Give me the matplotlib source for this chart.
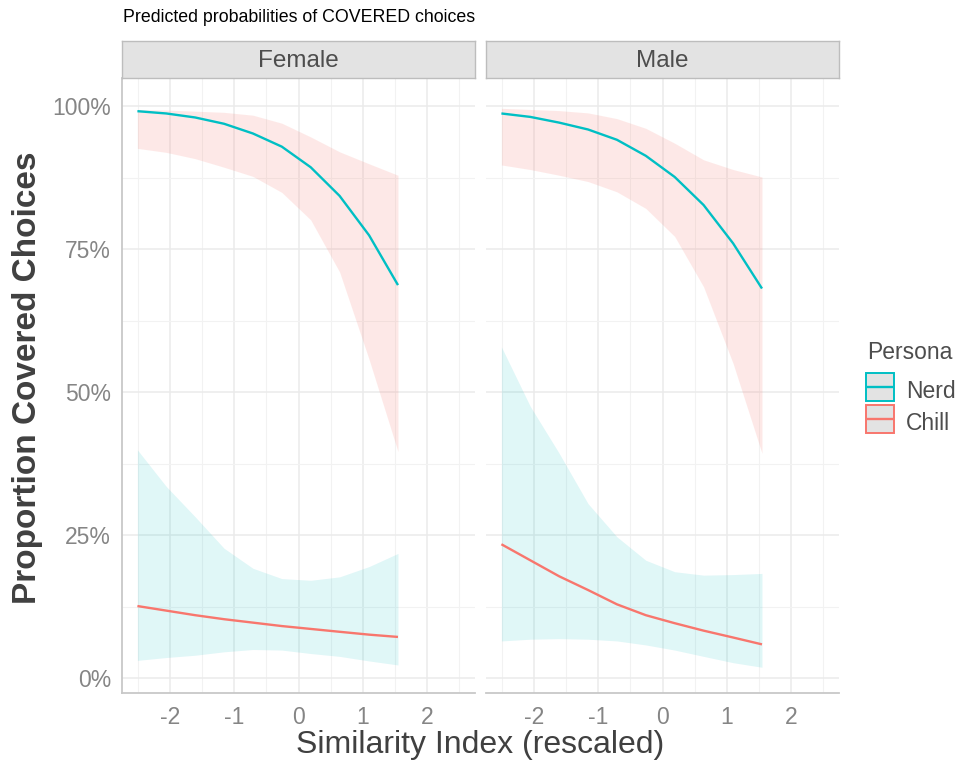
import numpy as np
import matplotlib
matplotlib.use("Agg")
import matplotlib.pyplot as plt
from matplotlib.lines import Line2D
from matplotlib.legend_handler import HandlerTuple
from matplotlib.ticker import FuncFormatter, MultipleLocator

plt.rcParams['font.family'] = ['Liberation Sans', 'DejaVu Sans']

# Data ------------------------------------------------------------------------
sim_index = [-2.51, -2.06, -1.61, -1.16, -0.71, -0.26, 0.19, 0.64, 1.10, 1.55]

# Female
nerd_f = [0.991, 0.987, 0.980, 0.969, 0.952, 0.929, 0.893, 0.843, 0.774, 0.687]
nerd_f_lo = [0.926, 0.919, 0.908, 0.893, 0.877, 0.849, 0.801, 0.710, 0.557, 0.396]
nerd_f_hi = [0.994, 0.993, 0.991, 0.989, 0.984, 0.970, 0.946, 0.920, 0.899, 0.879]
chill_f = [0.126, 0.118, 0.110, 0.103, 0.097, 0.091, 0.086, 0.081, 0.076, 0.072]
chill_f_lo = [0.031, 0.036, 0.040, 0.046, 0.050, 0.049, 0.043, 0.038, 0.030, 0.023]
chill_f_hi = [0.399, 0.335, 0.282, 0.227, 0.192, 0.174, 0.171, 0.177, 0.195, 0.218]

# Male
nerd_m = [0.987, 0.981, 0.971, 0.959, 0.941, 0.913, 0.876, 0.827, 0.760, 0.681]
nerd_m_lo = [0.897, 0.889, 0.879, 0.868, 0.850, 0.821, 0.772, 0.684, 0.550, 0.393]
nerd_m_hi = [0.996, 0.994, 0.992, 0.988, 0.978, 0.961, 0.935, 0.906, 0.889, 0.876]
chill_m = [0.234, 0.206, 0.178, 0.154, 0.129, 0.110, 0.096, 0.083, 0.071, 0.059]
chill_m_lo = [0.065, 0.068, 0.069, 0.068, 0.065, 0.058, 0.049, 0.038, 0.027, 0.019]
chill_m_hi = [0.579, 0.475, 0.393, 0.305, 0.247, 0.206, 0.186, 0.180, 0.181, 0.183]

panels = ["Female", "Male"]
personas = ["Nerd", "Chill"]

TEAL = '#00BFC4'
SALMON = '#F8766D'

W, H = 966, 764
fig = plt.figure(figsize=(W / 100, H / 100), dpi=100)


def fx(px):
    return px / W


def fy(py):
    return 1 - py / H


panel_l = [122, 486]
panel_w = 353
panel_top, panel_bot = 78, 693
strip_top = 41

series = {
    "Female": (nerd_f, nerd_f_lo, nerd_f_hi, chill_f, chill_f_lo, chill_f_hi),
    "Male": (nerd_m, nerd_m_lo, nerd_m_hi, chill_m, chill_m_lo, chill_m_hi),
}

pct = FuncFormatter(lambda v, pos: f"{v*100:.0f}%")

for i, name in enumerate(panels):
    ax = fig.add_axes([fx(panel_l[i]), fy(panel_bot), panel_w / W,
                       (panel_bot - panel_top) / H])
    nerd, nlo, nhi, chill, clo, chi = series[name]
    # ribbons (fill colour swapped, as in the original)
    ax.fill_between(sim_index, nlo, nhi, color=SALMON, alpha=0.16, lw=0)
    ax.fill_between(sim_index, clo, chi, color=TEAL, alpha=0.12, lw=0)
    ax.plot(sim_index, nerd, color=TEAL, lw=1.7, solid_capstyle='butt')
    ax.plot(sim_index, chill, color=SALMON, lw=1.7, solid_capstyle='butt')

    ax.set_xlim(-2.75, 2.75)
    ax.set_ylim(-0.026, 1.049)
    ax.xaxis.set_major_locator(MultipleLocator(1))
    ax.xaxis.set_minor_locator(MultipleLocator(0.5))
    ax.yaxis.set_major_locator(MultipleLocator(0.25))
    ax.yaxis.set_minor_locator(MultipleLocator(0.125))
    ax.yaxis.set_major_formatter(pct)
    ax.xaxis.set_major_formatter(FuncFormatter(lambda v, pos: f"{v:.0f}"))
    ax.grid(which='major', color='#EBEBEB', lw=1.1)
    ax.grid(which='minor', color='#F2F2F2', lw=0.8)
    ax.set_axisbelow(True)
    ax.tick_params(which='both', length=0)
    ax.tick_params(axis='x', labelsize=16.5, labelcolor='#858585', pad=9)
    ax.tick_params(axis='y', labelsize=16.5, labelcolor='#858585', pad=8)
    for s in ['top', 'right']:
        ax.spines[s].set_visible(False)
    ax.spines['bottom'].set_color('#C8C8C8')
    ax.spines['bottom'].set_linewidth(1.3)
    if i == 0:
        ax.spines['left'].set_color('#C8C8C8')
        ax.spines['left'].set_linewidth(1.3)
    else:
        ax.spines['left'].set_visible(False)
        ax.tick_params(axis='y', labelleft=False)

    # facet strip
    sax = fig.add_axes([fx(panel_l[i]), fy(panel_top), panel_w / W,
                        (panel_top - strip_top) / H])
    sax.set_facecolor('#E3E3E3')
    sax.set_xticks([])
    sax.set_yticks([])
    for s in sax.spines.values():
        s.set_color('#BDBDBD')
        s.set_linewidth(1.0)
    sax.text(0.5, 0.47, name, ha='center', va='center', fontsize=17.5,
             color='#4D4D4D', transform=sax.transAxes)

fig.text(fx(123), fy(18), "Predicted probabilities of COVERED choices",
         ha='left', va='center', fontsize=12.8, color='black')
fig.text(fx(480), fy(745), "Similarity Index (rescaled)", ha='center',
         va='center', fontsize=23, color='#404040')
fig.text(fx(28), fy(378), "Proportion Covered Choices", ha='center',
         va='center', rotation=90, fontsize=24, fontweight='bold',
         color='#404040')

# legend: grey key with coloured border and a centred line
fig.text(fx(867), fy(352), "Persona", ha='left', va='center',
         fontsize=16.5, color='#4D4D4D')
handles = []
for col in [TEAL, SALMON]:
    key_box = Line2D([], [], linestyle='none', marker='s', markersize=20.5,
                     markerfacecolor='#E3E3E3', markeredgecolor=col,
                     markeredgewidth=1.4)
    key_line = Line2D([], [], linestyle='none', marker='_', markersize=19,
                      markeredgecolor=col, markeredgewidth=1.7)
    handles.append((key_box, key_line))
leg = fig.legend(handles, personas, loc='upper left',
                 bbox_to_anchor=(fx(867), fy(376)), frameon=False,
                 fontsize=16.5, numpoints=1,
                 handler_map={tuple: HandlerTuple(ndivide=1, pad=0)},
                 handlelength=1.15, handleheight=1.58, handletextpad=0.55,
                 labelspacing=0.13, borderpad=0, borderaxespad=0)
for t in leg.get_texts():
    t.set_color('#4D4D4D')

fig.savefig("out.png", dpi=100)
